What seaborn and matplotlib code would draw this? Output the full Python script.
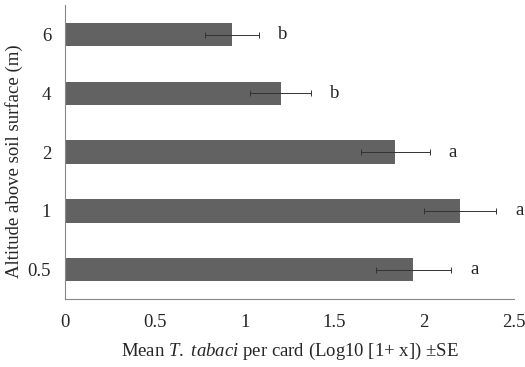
import matplotlib
matplotlib.use("Agg")
import matplotlib.pyplot as plt
import seaborn as sns
import pandas as pd
import numpy as np

altitudes = ["6", "4", "2", "1", "0.5"]
means = [0.93, 1.20, 1.84, 2.20, 1.94]
se = [0.15, 0.17, 0.19, 0.20, 0.21]
letters = ["b", "b", "a", "a", "a"]
x_ticks = [0, 0.5, 1, 1.5, 2, 2.5]
x_tick_labels = ["0", "0.5", "1", "1.5", "2", "2.5"]

sns.set_theme(style="white")
plt.rcParams["font.family"] = ["Liberation Serif", "DejaVu Serif"]
plt.rcParams["mathtext.fontset"] = "custom"
plt.rcParams["mathtext.it"] = "Liberation Serif:italic"
plt.rcParams["mathtext.rm"] = "Liberation Serif"

df = pd.DataFrame({"alt": altitudes, "mean": means})

fig = plt.figure(figsize=(5.25, 3.67), dpi=100)
ax = fig.add_axes([0.124, 0.185, 0.855, 0.801])

sns.barplot(data=df, x="mean", y="alt", order=altitudes, orient="h",
            color="#626262", width=0.4, saturation=1, ax=ax,
            edgecolor="#626262", linewidth=0)

ypos = np.arange(len(altitudes))
ax.errorbar(means, ypos, xerr=se, fmt="none", ecolor="#333333",
            elinewidth=0.7, capsize=2, capthick=0.7)

fs = 13.5
for m, s, y, l in zip(means, se, ypos, letters):
    ax.text(m + s + 0.13, y, l, ha="center", va="center", fontsize=fs,
            color="#222222")

ax.set_xlim(0, 2.5)
ax.set_ylim(len(altitudes) - 0.5, -0.5)
ax.set_xticks(x_ticks)
ax.set_xticklabels(x_tick_labels, fontsize=fs)
ax.set_yticks(ypos)
ax.set_yticklabels(altitudes, fontsize=fs)
ax.tick_params(axis="y", which="major", length=0, pad=10)
ax.set_yticks(np.arange(-0.5, len(altitudes), 1.0), minor=True)
ax.tick_params(axis="y", which="minor", length=5, width=0.8, color="#888888", direction="out")
ax.tick_params(axis="x", which="major", length=5, width=0.8, color="#888888", direction="out", pad=6)

for side in ["top", "right"]:
    ax.spines[side].set_visible(False)
for side in ["left", "bottom"]:
    ax.spines[side].set_color("#888888")
    ax.spines[side].set_linewidth(0.8)

ax.set_xlabel(r"Mean $T.$ $tabaci$ per card (Log10 [1+ x]) ±SE", fontsize=fs, labelpad=7)
ax.set_ylabel("Altitude above soil surface (m)", fontsize=fs)
ax.yaxis.set_label_coords(-0.093, 0.47)

fig.savefig("out.png", dpi=100)
